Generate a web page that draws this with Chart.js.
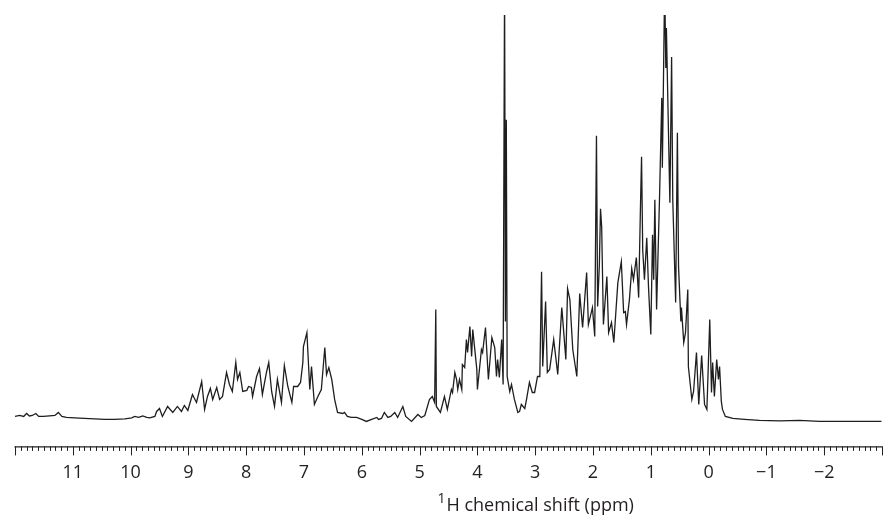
<!DOCTYPE html>
<html>
<head>
<meta charset="utf-8">
<script src="https://cdn.jsdelivr.net/npm/chart.js@4.4.0/dist/chart.umd.min.js"></script>
<style>
  html, body { margin: 0; padding: 0; background: #fff; }
  canvas { display: block; }
</style>
</head>
<body>
<canvas id="nmrChart" width="889" height="516"></canvas>
<script>
// 1H spectrum: chemical shift (ppm) and intensity (arbitrary units)
const shiftPpm = [
  12.00, 11.92, 11.85, 11.80, 11.75, 11.70, 11.64, 11.59, 11.51, 11.40, 11.31, 11.25, 11.19, 11.11, 10.97, 10.80, 10.62, 10.45, 10.28, 10.10, 9.98,
  9.93, 9.86, 9.79, 9.72, 9.67, 9.58, 9.55, 9.50, 9.45, 9.36, 9.27, 9.19, 9.12, 9.07, 9.01,
  8.93, 8.86, 8.77, 8.72, 8.67, 8.62, 8.58, 8.51, 8.46, 8.41, 8.34, 8.29, 8.24, 8.18, 8.15, 8.11, 8.06, 7.99, 7.96, 7.91, 7.89,
  7.82, 7.77, 7.72, 7.65, 7.61, 7.56, 7.51, 7.46, 7.39, 7.34, 7.28, 7.21, 7.18, 7.11, 7.06, 7.02, 7.01, 6.95, 6.90, 6.87, 6.82, 6.76, 6.70, 6.64, 6.61, 6.57, 6.52, 6.47, 6.42,
  6.33, 6.30, 6.25, 6.18, 6.09, 6.00, 5.92, 5.83, 5.74, 5.71, 5.66, 5.61, 5.55, 5.50, 5.43, 5.38, 5.29, 5.24, 5.14, 5.03, 4.97, 4.91, 4.83, 4.78, 4.74, 4.72, 4.71,
  4.64, 4.57, 4.52, 4.45, 4.43, 4.39, 4.36, 4.34, 4.31, 4.27, 4.26, 4.22, 4.19, 4.17, 4.13, 4.10, 4.08, 4.01, 4.00, 3.93, 3.91, 3.86, 3.81, 3.75, 3.70, 3.67, 3.65, 3.62,
  3.58, 3.555, 3.53, 3.515, 3.50, 3.485, 3.44, 3.41, 3.36, 3.30, 3.27, 3.24, 3.18, 3.15, 3.10, 3.05, 3.01, 2.96, 2.92,
  2.89, 2.87, 2.82, 2.79, 2.75, 2.68, 2.61, 2.54, 2.53, 2.47, 2.44, 2.40, 2.35, 2.28, 2.23, 2.18, 2.11, 2.08, 2.01, 1.97, 1.94, 1.92,
  1.89, 1.87, 1.85, 1.82, 1.76, 1.73, 1.68, 1.64, 1.59, 1.57, 1.51, 1.47, 1.44, 1.42, 1.37, 1.33, 1.30, 1.25, 1.21, 1.18, 1.16, 1.14, 1.11, 1.07, 1.04, 1.00, 0.97, 0.95, 0.93, 0.90,
  0.85, 0.81, 0.80, 0.76, 0.74, 0.73, 0.67, 0.64, 0.62, 0.57, 0.54, 0.52, 0.48, 0.47, 0.43, 0.40, 0.36, 0.35,
  0.29, 0.26, 0.21, 0.17, 0.12, 0.07, 0.03, 0.02, -0.02, -0.05, -0.07, -0.10, -0.14, -0.17, -0.19, -0.22, -0.24, -0.29, -0.42, -0.62, -0.88, -1.23, -1.57, -1.92, -2.27, -2.61, -2.99
];
const intensity = [
  6, 7, 6, 9, 6.5, 7, 9, 6, 6, 6.5, 7, 10, 6, 5, 4.5, 4, 3.5, 3, 3, 3.5, 4.5,
  6, 5, 6.5, 5, 4.5, 6, 11, 14, 6, 16, 10, 16, 11, 17, 12,
  28, 20, 41, 13, 26, 34, 23, 35, 23, 26, 50, 38, 31, 60, 43, 50, 31, 32, 36, 35, 26,
  46, 54, 28, 50, 60, 31, 16, 43, 20, 57, 36, 20, 36, 36, 40, 60, 76, 90, 33, 56, 18, 26, 33, 75, 48, 55, 43, 23, 10,
  9, 10, 6, 5, 5, 3, 1, 3, 5, 3, 4, 10, 5, 6, 10, 5, 16, 6, 1, 8, 5, 7, 23, 26, 20, 113, 16,
  10, 26, 13, 33, 30, 50, 43, 33, 43, 33, 58, 55, 83, 70, 96, 66, 93, 53, 33, 73, 70, 95, 43, 85, 75, 46, 63, 45,
  83, 38, 440, 101, 303, 46, 31, 38, 23, 10, 11, 18, 14, 23, 40, 30, 30, 46, 46,
  151, 56, 121, 50, 53, 83, 48, 115, 108, 63, 134, 123, 73, 46, 129, 95, 150, 98, 115, 86, 287, 116,
  158, 214, 196, 98, 146, 90, 100, 80, 123, 140, 161, 110, 111, 98, 123, 154, 143, 165, 125, 213, 266, 173, 143, 185, 136, 88, 188, 143, 223, 113,
  223, 325, 255, 440, 355, 395, 220, 366, 223, 120, 290, 156, 101, 115, 80, 90, 133, 56,
  23, 31, 70, 18, 67, 18, 13, 30, 103, 30, 60, 26, 63, 43, 56, 21, 13, 6, 4, 3, 2, 1.5, 2, 1, 1, 1, 1
];
const shiftMin = -3;
const shiftMax = 12;
const unlabelledEnds = [12, -3];
const titleSup = "1";
const titleText = "H chemical shift (ppm)";

const points = shiftPpm.map((p, i) => ({ x: p, y: intensity[i] }));

// axis line, 0.1 ppm minor ticks and the title with a superscript "1"
const axisPlugin = {
  id: "nmrAxis",
  afterDraw(chart) {
    const { ctx, chartArea, scales } = chart;
    const xs = scales.x;
    const y0 = chartArea.bottom;
    ctx.save();
    ctx.strokeStyle = "#231f20";
    ctx.lineWidth = 1.3;
    ctx.beginPath();
    ctx.moveTo(chartArea.left - 0.5, y0 + 0.5);
    ctx.lineTo(chartArea.right + 0.5, y0 + 0.5);
    ctx.stroke();

    ctx.lineWidth = 1;
    for (let i = shiftMin * 10; i <= shiftMax * 10; i++) {
      const px = Math.round(xs.getPixelForValue(i / 10)) + 0.5;
      const len = i % 10 === 0 ? 9 : 4.5;
      ctx.beginPath();
      ctx.moveTo(px, y0);
      ctx.lineTo(px, y0 + len);
      ctx.stroke();
    }

    ctx.fillStyle = "#231f20";
    ctx.textBaseline = "alphabetic";
    const mainFont = '18px "Open Sans"';
    const supFont = '14px "Open Sans"';
    ctx.font = mainFont;
    const wMain = ctx.measureText(titleText).width;
    ctx.font = supFont;
    const wSup = ctx.measureText(titleSup).width;
    const cx = xs.getPixelForValue(3);
    const left = cx - (wMain + wSup) / 2;
    ctx.textAlign = "left";
    ctx.fillText(titleSup, left, y0 + 57);
    ctx.font = mainFont;
    ctx.fillText(titleText, left + wSup + 1, y0 + 65);
    ctx.restore();
  }
};

new Chart(document.getElementById("nmrChart"), {
  type: "line",
  data: {
    datasets: [{
      data: points,
      borderColor: "#1e1e1e",
      borderWidth: 1.3,
      pointRadius: 0,
      tension: 0,
      fill: false,
      clip: 0
    }]
  },
  options: {
    responsive: false,
    animation: false,
    events: [],
    layout: { padding: { left: 15, right: 7, top: 15, bottom: 16 } },
    plugins: {
      legend: { display: false },
      tooltip: { enabled: false }
    },
    scales: {
      x: {
        type: "linear",
        reverse: true,
        min: shiftMin,
        max: shiftMax,
        grid: { display: false, drawTicks: false },
        border: { display: false },
        afterFit: (scale) => {
          scale.paddingLeft = 0;
          scale.paddingRight = 0;
        },
        ticks: {
          stepSize: 1,
          autoSkip: false,
          maxRotation: 0,
          padding: 16,
          color: "#231f20",
          font: { family: "Open Sans", size: 18 },
          callback: (v) => {
            if (unlabelledEnds.includes(v)) return "";
            return v < 0 ? "\u2212" + Math.abs(v) : String(v);
          }
        }
      },
      y: {
        display: false,
        min: -24,
        max: 408
      }
    }
  },
  plugins: [axisPlugin]
});
</script>
</body>
</html>
